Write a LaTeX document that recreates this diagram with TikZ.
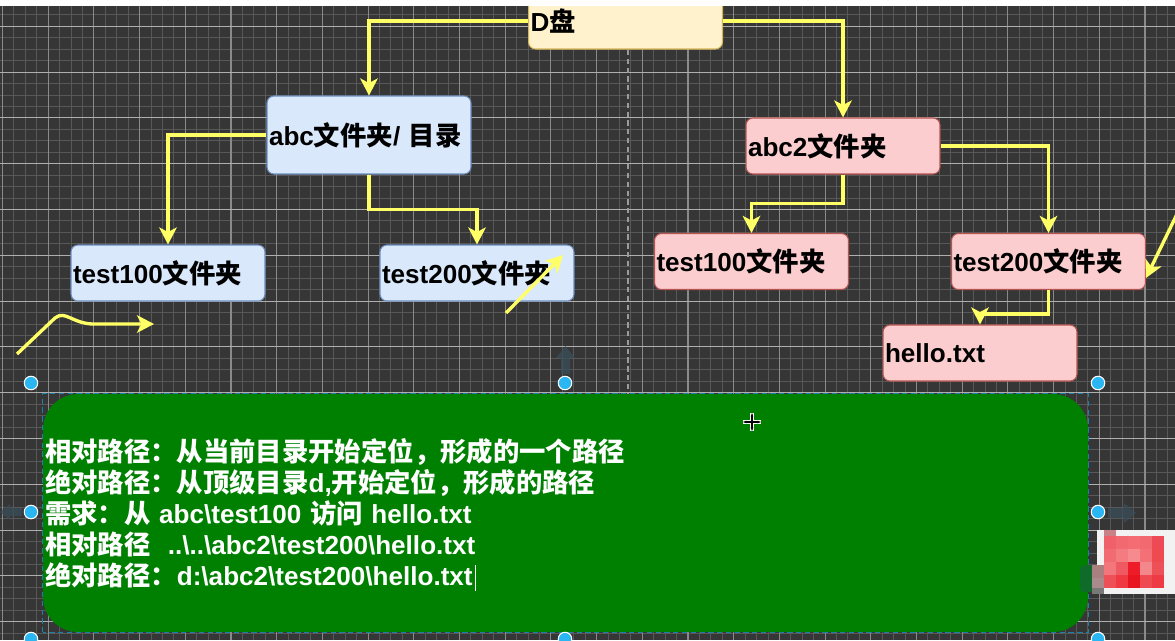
\documentclass[tikz,border=0pt]{standalone}
\usepackage{fontspec}
\setmainfont{Liberation Sans}
\newfontfamily\cjk{Noto Sans CJK SC}[Scale=1.01]
\usetikzlibrary{arrows.meta}
\newcommand{\zh}[1]{{\cjk #1}}
\definecolor{gridbg}{HTML}{363636}
\definecolor{linkyellow}{HTML}{FFFF66}
\definecolor{handleblue}{HTML}{29B6F2}
\definecolor{blueface}{HTML}{DAE8FC}
\definecolor{blueedge}{HTML}{6C8EBF}
\definecolor{pinkface}{HTML}{FBCDCE}
\definecolor{pinkedge}{HTML}{B85450}
\definecolor{yellowface}{HTML}{FFF2CC}
\definecolor{yellowedge}{HTML}{D6B656}
\definecolor{notegreen}{HTML}{008000}
\definecolor{ghostgrey}{HTML}{3A4D5A}
\definecolor{darkgreen}{HTML}{0F6B2A}
\definecolor{blura}{HTML}{A97F7F}
\definecolor{blurb}{HTML}{AA8A8A}
\definecolor{blurc}{HTML}{787878}
\definecolor{blurd}{HTML}{C88287}
\tikzset{
	minorline/.style={draw=white!17!gridbg, line width=0.55pt},
	majorv/.style={draw=white!42!gridbg, line width=0.6pt},
	majorh/.style={draw=white!60!gridbg, line width=0.6pt},
	box/.style={rectangle, rounded corners=0.14cm, line width=0.6pt, minimum height=1.12cm, text width=3.8cm, inner xsep=0.04cm, inner ysep=0pt, align=left, text=black, font=\bfseries\fontsize{14.85}{17.6}\selectfont},
	bluebox/.style={box, fill=blueface, draw=blueedge},
	pinkbox/.style={box, fill=pinkface, draw=pinkedge},
	yellowbox/.style={box, fill=yellowface, draw=yellowedge},
	link/.style={draw=linkyellow, line width=1.9pt, -{Stealth[length=0.34cm,width=0.35cm,inset=0.09cm]}},
	handle/.style={circle, fill=handleblue, draw=white, line width=0.6pt, minimum size=0.27cm, inner sep=0pt},
	ghost/.style={fill=ghostgrey, draw=none, opacity=0.75},
}

\begin{document}
\begin{tikzpicture}[x=0.02cm, y=-0.02cm]
	\useasboundingbox (0,0) rectangle (1175,640);
	\clip (0,0) rectangle (1175,640);

	% background grid
	\fill[gridbg] (0,0) rectangle (1175,640);
	\foreach \i in {0,...,103} \draw[minorline] ({2.5+11.425*\i},0) -- ({2.5+11.425*\i},640);
	\foreach \i in {-2,...,54} \draw[minorline] (0,{26.3+11.45*\i}) -- (1175,{26.3+11.45*\i});
	\foreach \i in {0,...,25} \draw[majorv] ({2.5+45.7*\i},0) -- ({2.5+45.7*\i},640);
	\foreach \i in {0,...,13} \draw[majorh] (0,{26.3+45.8*\i}) -- (1175,{26.3+45.8*\i});
	\draw[white!50!gridbg, densely dashed, line width=0.6pt] (628,50) -- (628,393);

	% left tree
	\node[yellowbox] (disk) at (625.5,21) {D\zh{盘}};
	\node[bluebox, text width=4cm, minimum height=1.56cm] (abc) at (369,135) {abc\zh{文件夹}/ \zh{目录}};
	\node[bluebox] (abcone) at (168,273) {test100\zh{文件夹}};
	\node[bluebox] (abctwo) at (477,273) {test200\zh{文件夹}};

	% right tree
	\node[pinkbox] (abcd) at (843,146) {abc2\zh{文件夹}};
	\node[pinkbox] (dirone) at (751.5,261.5) {test100\zh{文件夹}};
	\node[pinkbox] (dirtwo) at (1048.5,261.5) {test200\zh{文件夹}};
	\node[pinkbox] (hello) at (980,353) {hello.txt};

	% links
	\draw[link] (disk.west) -| (abc.north);
	\draw[link] (disk.east) -| (abcd.north);
	\draw[link] (abc.west) -| (abcone.north);
	\draw[link] (abc.south) -- ++(0,35) -| (abctwo.north);
	\draw[link] (abcd.south) -- ++(0,29) -| (dirone.north);
	\draw[link] (abcd.east) -| (dirtwo.north);
	\draw[link] (dirtwo.south) -- ++(0,24) -| (hello.north);

	% hand drawn arrows
	\coordinate (curvestart) at (17,354);
	\coordinate (curveend) at (154,324);
	\coordinate (slantstart) at (506,313);
	\coordinate (slantend) at (563,255);
	\coordinate (edgestart) at (1178,212);
	\coordinate (edgeend) at (1146,278);
	\draw[link] (curvestart) -- (55,318) .. controls (65,310) and (72,323) .. (92,324) -- (curveend);
	\draw[link] (slantstart) -- (slantend);
	\draw[link] (edgestart) -- (edgeend);

	% top strip of the window
	\fill[white] (0,0) rectangle (1175,5.5);

	% ghost arrows around the selection
	\fill[ghost] (561,374) -- (561,358) -- (556,358) -- (565.5,346) -- (575,358) -- (570,358) -- (570,374) -- cycle;
	\fill[ghost] (22,508) -- (10,508) -- (10,504) -- (0,512) -- (10,520) -- (10,516) -- (22,516) -- cycle;
	\fill[ghost] (1108,508) -- (1124,508) -- (1124,503) -- (1136,513) -- (1124,523) -- (1124,518) -- (1108,518) -- cycle;

	% selected note
	\node[rectangle, fill=notegreen, rounded corners=0.7cm, minimum width=20.9cm, minimum height=4.76cm, text width=20.82cm, inner xsep=0.04cm, inner ysep=0pt, align=left, text=white, font=\bfseries\fontsize{14.85}{17.64}\selectfont] (note) at (565.5,513) {%
		\zh{相对路径：从当前目录开始定位，形成的一个路径}\\
		\zh{绝对路径：从顶级目录}d,\zh{开始定位，形成的路径}\\
		\zh{需求：从} abc\textbackslash test100 \zh{访问} hello.txt\\
		\zh{相对路径}\ \ ..\textbackslash ..\textbackslash abc2\textbackslash test200\textbackslash hello.txt\\
		\zh{绝对路径：}d:\textbackslash abc2\textbackslash test200\textbackslash hello.txt};
	\draw[handleblue!70!black, densely dashed, line width=0.6pt] (note.south west) rectangle (note.north east);
	\draw[white, line width=0.5pt] (475,565) -- (475,591);

	\node[handle] (hnw) at (31,383) {};
	\node[handle] (hn) at (565,383) {};
	\node[handle] (hne) at (1098,383) {};
	\node[handle] (hw) at (31,512) {};
	\node[handle] (he) at (1098,512) {};
	\node[handle] (hsw) at (31,639) {};
	\node[handle] (hs) at (565,639) {};
	\node[handle] (hse) at (1098,639) {};

	% move cursor
	\draw[white, line width=1.8pt] (743,422) -- (761,422) (752,413) -- (752,431);
	\draw[black, line width=0.6pt, {Stealth[length=0.07cm]}-{Stealth[length=0.07cm]}] (743,422) -- (761,422);
	\draw[black, line width=0.6pt, {Stealth[length=0.07cm]}-{Stealth[length=0.07cm]}] (752,413) -- (752,431);

	% blurred corner
	\fill[white!95!black] (1097,530) rectangle (1175,594);
	\fill[darkgreen, rounded corners=0.08cm] (1080,565) rectangle (1094,592);
	\fill[blura] (1092,565) rectangle (1104,578);
	\fill[blurb] (1092,578) rectangle (1104,588);
	\fill[blurc] (1092,588) rectangle (1104,594);
	\fill[blurd] (1104,530) rectangle (1116,540);
	\foreach \cella/\cellb/\cellc/\celld/\celle [count=\r from 0] in {F0606A/F26A70/F56D72/F06A70/EE4A55, F26A72/F47C80/F68A8E/F27076/EE4A50, F2767C/EF5A62/EE1C28/F2888C/EE5058, EE5058/EF3A44/E8141F/EF4A52/EE3A44} {
		\foreach \hex [count=\c from 0] in {\cella,\cellb,\cellc,\celld,\celle} {
			\definecolor{cellcol}{HTML}{\hex}
			\fill[cellcol] ({1104+12*\c},{536+13*\r}) rectangle ({1116+12*\c},{549+13*\r});
		}
	}
\end{tikzpicture}
\end{document}
